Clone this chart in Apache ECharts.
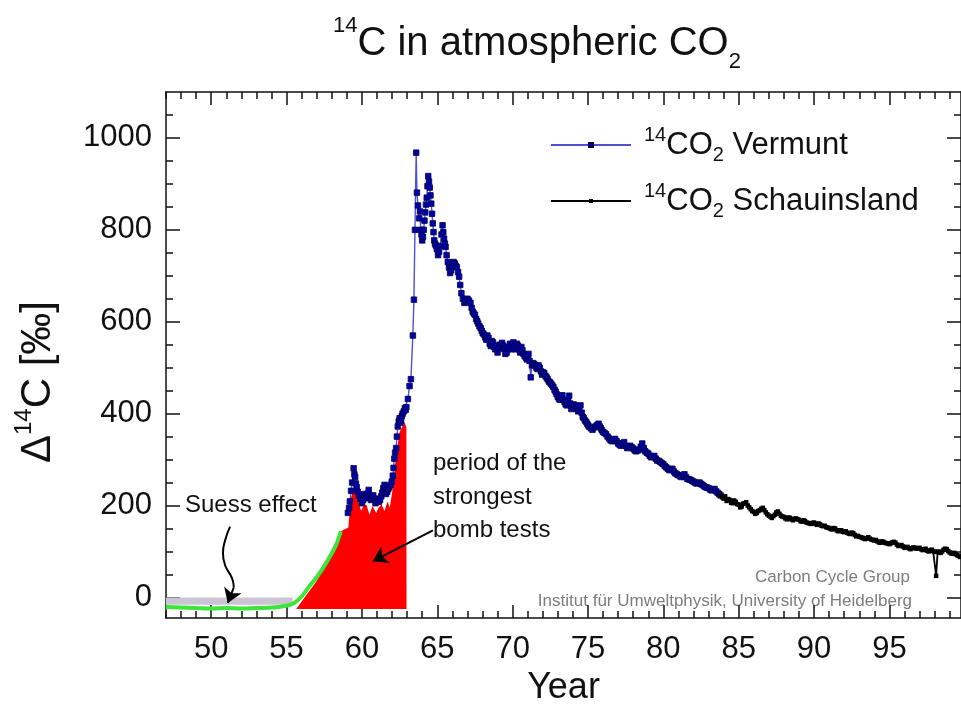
<!DOCTYPE html>
<html><head><meta charset="utf-8">
<script src="https://cdn.jsdelivr.net/npm/echarts@6/dist/echarts.min.js"></script>
<style>html,body{margin:0;padding:0;background:#fff}#c{width:961px;height:711px}</style>
</head><body><div id="c"></div>
<script>
// ---- tick labels ----
const xTickLabels = [50, 55, 60, 65, 70, 75, 80, 85, 90, 95];
const xMinorTicks = [47,48,49,50,51,52,53,54,55,56,57,58,59,60,61,62,63,64,65,66,67,68,69,70,71,72,73,74,75,76,77,78,79,80,81,82,83,84,85,86,87,88,89,90,91,92,93,94,95,96,97,98,99];
const yTickLabels = [0, 200, 400, 600, 800, 1000];
const yMinorTicks = [0,50,100,150,200,250,300,350,400,450,500,550,600,650,700,750,800,850,900,950,1000,1050];

// ---- Vermunt (year, Δ14C ‰) ----
const vermuntYears = [59.07,59.15,59.2,59.28,59.35,59.45,59.5,59.55,59.6,59.65,59.72,59.8,59.9,60.0,60.08,60.15,60.22,60.3,60.38,60.45,60.52,60.6,60.68,60.75,60.82,60.9,60.98,61.05,61.12,61.2,61.28,61.35,61.42,61.5,61.55,61.6,61.68,61.75,61.82,61.9,61.98,62.05,62.1,62.15,62.2,62.27,62.32,62.38,62.44,62.5,62.55,62.6,62.65,62.7,62.78,62.85,62.9,62.95,63.05,63.16,63.25,63.38,63.45,63.52,63.6,63.65,63.72,63.8,63.85,63.9,63.95,64.0,64.05,64.1,64.15,64.2,64.25,64.3,64.35,64.4,64.45,64.5,64.55,64.6,64.65,64.7,64.75,64.8,64.85,64.9,64.97,65.05,65.12,65.2,65.28,65.35,65.4,65.45,65.5,65.55,65.62,65.7,65.78,65.85,65.92,66.0,66.08,66.15,66.22,66.3,66.38,66.45,66.52,66.6,66.7,66.8,66.9,67.0,67.1,67.2,67.28,67.35,67.42,67.5,67.58,67.65,67.72,67.8,67.88,67.95,68.02,68.1,68.18,68.25,68.32,68.4,68.48,68.55,68.62,68.7,68.78,68.85,68.92,69.0,69.08,69.15,69.22,69.3,69.38,69.45,69.52,69.6,69.68,69.75,69.82,69.9,69.98,70.05,70.12,70.2,70.28,70.35,70.42,70.5,70.58,70.65,70.72,70.8,70.88,70.95,71.0,71.05,71.12,71.2,71.28,71.35,71.42,71.5,71.58,71.65,71.72,71.8,71.88,71.95,72.02,72.1,72.18,72.25,72.32,72.4,72.48,72.55,72.62,72.7,72.78,72.85,72.92,73.0,73.08,73.15,73.22,73.3,73.38,73.45,73.52,73.6,73.68,73.75,73.82,73.9,73.98,74.05,74.12,74.2,74.28,74.35,74.42,74.5,74.58,74.65,74.72,74.8,74.88,74.95,75.02,75.1,75.2,75.3,75.4,75.5,75.6,75.7,75.78,75.85,75.92,76.0,76.1,76.2,76.3,76.4,76.5,76.6,76.7,76.8,76.9,77.0,77.1,77.2,77.3,77.4,77.5,77.6,77.7,77.8,77.9,78.0,78.1,78.2,78.3,78.4,78.5,78.6,78.7,78.8,78.9,79.0,79.1,79.2,79.3,79.4,79.5,79.6,79.7,79.8,79.9,80.0,80.1,80.2,80.3,80.4,80.5,80.6,80.7,80.8,80.9,81.0,81.1,81.2,81.3,81.4,81.5,81.6,81.7,81.8,81.9,82.0,82.1,82.2,82.3,82.4,82.5,82.6,82.7,82.8,82.9,83.0,83.1,83.2,83.3,83.4,83.5,83.6,83.7,83.8];
const vermuntValues = [184,195,209,232,250,281,268,262,248,240,230,222,214,205,212,225,220,216,226,234,222,212,218,222,214,205,210,215,208,212,220,228,238,245,232,225,230,236,240,245,252,265,282,302,315,325,350,372,383,390,380,385,395,400,405,412,408,414,432,460,475,570,648,800,968,881,853,825,840,800,790,777,785,800,820,838,855,870,895,917,905,892,875,857,835,814,795,777,770,766,758,745,752,765,790,810,795,781,770,763,745,730,718,706,712,720,730,727,722,719,708,698,680,662,650,641,645,650,646,641,630,622,618,615,606,601,596,590,586,580,575,572,566,561,570,565,552,547,558,555,545,540,548,533,542,550,545,554,548,540,530,533,540,545,552,540,548,555,545,540,552,548,540,533,545,538,530,525,522,518,526,530,515,479,505,510,508,505,500,497,505,500,492,485,490,488,482,479,475,470,468,465,462,458,452,448,442,436,432,430,436,440,430,425,420,418,428,439,422,410,415,420,418,415,410,405,412,418,402,393,390,385,382,378,374,371,368,365,370,372,375,378,372,368,364,360,358,355,350,346,342,340,343,345,340,335,332,330,335,338,330,325,328,330,327,324,320,318,320,322,328,335,325,318,315,313,308,305,306,308,302,298,297,295,292,290,286,283,280,277,279,280,274,270,268,266,264,262,265,268,262,258,257,256,254,252,250,248,249,250,247,245,242,240,239,238,235,233,235,236,231,228,225,222];

// ---- Schauinsland ----
const schauYears = [83.8,83.9,84.0,84.1,84.2,84.3,84.4,84.5,84.6,84.7,84.8,84.9,85.0,85.1,85.2,85.3,85.4,85.5,85.6,85.7,85.8,85.9,86.0,86.1,86.2,86.3,86.4,86.5,86.6,86.7,86.8,86.9,87.0,87.1,87.2,87.3,87.4,87.5,87.6,87.7,87.8,87.9,88.0,88.1,88.2,88.3,88.4,88.5,88.6,88.7,88.8,88.9,89.0,89.1,89.2,89.3,89.4,89.5,89.6,89.7,89.8,89.9,90.0,90.1,90.2,90.3,90.4,90.5,90.6,90.7,90.8,90.9,91.0,91.1,91.2,91.3,91.4,91.5,91.6,91.7,91.8,91.9,92.0,92.1,92.2,92.3,92.4,92.5,92.6,92.7,92.8,92.9,93.0,93.1,93.2,93.3,93.4,93.5,93.6,93.7,93.8,93.9,94.0,94.1,94.2,94.3,94.4,94.5,94.6,94.7,94.8,94.9,95.0,95.1,95.2,95.3,95.4,95.5,95.6,95.7,95.8,95.9,96.0,96.1,96.2,96.3,96.4,96.5,96.6,96.7,96.8,96.9,97.0,97.1,97.2,97.3,97.4,97.5,97.6,97.7,97.8,97.9,98.0,98.1,98.2,98.3,98.4,98.5,98.6,98.7,98.8,98.9,99.0,99.1,99.2,99.3,99.4,99.5,99.6,99.7];
const schauValues = [222,218,215,220,210,214,212,206,205,211,208,203,202,196,198,204,205,207,200,196,192,188,186,182,184,188,190,193,195,190,185,181,178,176,173,177,180,185,187,182,178,176,175,172,170,174,173,170,168,171,172,170,169,166,165,168,166,163,162,161,160,162,163,160,158,161,159,156,155,156,153,152,151,149,148,151,150,146,144,146,146,143,142,144,141,139,138,141,140,136,133,134,132,131,130,128,127,129,131,128,126,125,124,125,122,120,119,122,121,119,118,117,116,118,120,121,119,115,112,113,114,111,108,109,110,107,105,107,109,108,106,107,108,105,103,104,106,102,100,102,104,101,99,47,100,98,97,100,104,106,105,101,98,96,95,97,94,92,90,88];

// ---- red area: period of the strongest bomb tests ----
const bombYears = [55.64,56.3,57.0,57.8,58.6,59.1,59.25,59.4,59.5,59.7,59.95,60.1,60.3,60.5,60.7,60.95,61.1,61.3,61.5,61.7,61.85,62.05,62.27,62.5,62.83,62.95,62.96];
const bombValues = [-25,5,36,90,144,152,215,230,238,216,188,200,202,180,199,184,195,202,188,209,195,238,310,360,382,370,-25];
const bombBase = -25;

// ---- green curve (Suess effect / pre-bomb) ----
const suessYears = [47,48,49,50,51,52,53,54,55,55.5,56,56.5,57,57.5,58,58.3,58.6];
const suessValues = [-21,-22,-23,-24,-23,-24,-23,-22,-18,-12,2,24,44,68,96,115,144];
const suessBand = [[47, 0], [55.4, -16]];

// ---- annotation arrows (data coordinates) ----
const suessArrowPath = [[51.25,154],[50.92,124],[50.78,96],[50.92,70],[51.38,42],[51.5,22]];
const suessArrowHead = [[51.5,22],[51.1,-12]];
const bombArrow = [[64.71,146],[60.73,79]];

const zip = (a, b) => a.map((v, i) => [v, b[i]]);
const FONT = 'Liberation Sans, Arial, Helvetica, sans-serif';
const AX = '#111';

function xAxisDef(pos, ticks, len, withLabels, withLine) {
  return {
    type: 'value', min: 47, max: 99.75, position: pos,
    axisLine: { show: withLine, onZero: false, lineStyle: { color: AX, width: 1.5 } },
    axisTick: { show: true, inside: true, length: len, customValues: ticks, lineStyle: { color: AX, width: 1.5 } },
    axisLabel: { show: withLabels, customValues: xTickLabels, margin: 16, fontSize: 31, color: AX, fontFamily: FONT, formatter: v => String(v) },
    splitLine: { show: false },
    name: withLabels ? 'Year' : '', nameLocation: 'middle', nameGap: 50,
    nameTextStyle: { fontSize: 36, color: AX, fontFamily: FONT }
  };
}
function yAxisDef(pos, ticks, len, withLabels, withLine) {
  return {
    type: 'value', min: -45, max: 1100, position: pos,
    axisLine: { show: withLine, onZero: false, lineStyle: { color: AX, width: 1.5 } },
    axisTick: { show: true, inside: true, length: len, customValues: ticks, lineStyle: { color: AX, width: 1.5 } },
    axisLabel: { show: withLabels, customValues: yTickLabels, margin: 14, fontSize: 31, color: AX, fontFamily: FONT, formatter: v => String(v) },
    splitLine: { show: false }
  };
}

const chart = echarts.init(document.getElementById('c'), null, { renderer: 'canvas' });
const legendText = {
  'Vermunt': '{s|14}{m|CO}{b|2}{m| Vermunt}',
  'Schauinsland': '{s|14}{m|CO}{b|2}{m| Schauinsland}'
};
chart.setOption({
  animation: false,
  backgroundColor: '#fff',
  title: {
    text: '{s|14}{m|C in atmospheric CO}{b|2}',
    left: 333, top: 15, padding: 0,
    textStyle: {
      fontWeight: 'normal',
      rich: {
        s: { fontSize: 22, fontFamily: FONT, fontWeight: 'normal', color: AX, lineHeight: 22, verticalAlign: 'top' },
        m: { fontSize: 40, fontFamily: FONT, fontWeight: 'normal', color: AX, lineHeight: 58 },
        b: { fontSize: 22, fontFamily: FONT, fontWeight: 'normal', color: AX, lineHeight: 36, verticalAlign: 'bottom' }
      }
    }
  },
  legend: {
    orient: 'vertical', left: 550, top: 125, padding: 0,
    itemWidth: 80, itemHeight: 5, itemGap: 16,
    data: ['Vermunt', 'Schauinsland'],
    formatter: n => legendText[n],
    textStyle: {
      padding: [0, 0, 0, 8],
      rich: {
        s: { fontSize: 20, fontFamily: FONT, color: AX, lineHeight: 20, verticalAlign: 'top' },
        m: { fontSize: 31, fontFamily: FONT, color: AX, lineHeight: 40 },
        b: { fontSize: 20, fontFamily: FONT, color: AX, lineHeight: 12, verticalAlign: 'bottom' }
      }
    }
  },
  grid: { left: 166, right: 0, top: 92, bottom: 91, containLabel: false },
  xAxis: [
    xAxisDef('bottom', xTickLabels, 13, true, true),
    xAxisDef('bottom', xMinorTicks, 7, false, false),
    xAxisDef('top', xTickLabels, 13, false, true),
    xAxisDef('top', xMinorTicks, 7, false, false)
  ],
  yAxis: [
    yAxisDef('left', yTickLabels, 14, true, true),
    yAxisDef('left', yMinorTicks, 7, false, false),
    yAxisDef('right', yTickLabels, 14, false, true),
    yAxisDef('right', yMinorTicks, 7, false, false)
  ],
  series: [
    {
      type: 'line', name: 'band', data: suessBand.map(p => p), symbol: 'none',
      lineStyle: { width: 0, opacity: 0 }, silent: true,
      markArea: { silent: true, itemStyle: { color: '#cbc4d2' },
        data: [[{ coord: suessBand[0] }, { coord: suessBand[1] }]] }
    },
    {
      type: 'line', name: 'bomb', data: zip(bombYears, bombValues), symbol: 'none',
      lineStyle: { width: 0 }, areaStyle: { color: '#ff0000', opacity: 1, origin: bombBase }, silent: true
    },
    {
      type: 'line', name: 'suess', data: zip(suessYears, suessValues), symbol: 'none', smooth: 0.3,
      lineStyle: { color: '#3ae63a', width: 4 }, silent: true
    },
    {
      type: 'line', name: 'Vermunt', data: zip(vermuntYears, vermuntValues),
      symbol: 'rect', symbolSize: 5.5, showAllSymbol: true,
      itemStyle: { color: '#0000a8', borderColor: '#000050', borderWidth: 0.8 },
      lineStyle: { color: '#4f4fd8', width: 1.4 }
    },
    {
      type: 'line', name: 'Schauinsland', data: zip(schauYears, schauValues),
      symbol: 'rect', symbolSize: 4.5, showAllSymbol: true,
      itemStyle: { color: '#000' }, lineStyle: { color: '#000', width: 1.8 }
    },
    {
      type: 'line', name: 'suessArrow', data: suessArrowPath, symbol: 'none', smooth: 0.5,
      lineStyle: { color: '#000', width: 2 }, silent: true, z: 10
    },
    {
      type: 'lines', coordinateSystem: 'cartesian2d', silent: true, z: 10,
      symbol: ['none', 'arrow'], symbolSize: 14,
      lineStyle: { color: '#000', width: 2, opacity: 1 },
      data: [{ coords: suessArrowHead }, { coords: bombArrow }]
    }
  ],
  graphic: [
    {
      type: 'text', x: 38, y: 382, rotation: Math.PI / 2,
      style: {
        text: '{d|Δ}{s|14}{m|C [‰]}', align: 'center', verticalAlign: 'middle',
        rich: {
          d: { fontSize: 42, fontFamily: FONT, fill: AX, lineHeight: 52 },
          s: { fontSize: 24, fontFamily: FONT, fill: AX, lineHeight: 24, verticalAlign: 'top' },
          m: { fontSize: 42, fontFamily: FONT, fill: AX, lineHeight: 52 }
        }
      }
    },
    { type: 'text', x: 185, y: 505, style: { text: 'Suess effect', font: '24px ' + FONT, fill: AX, verticalAlign: 'middle' } },
    { type: 'text', x: 433, y: 447, style: { text: 'period of the\nstrongest\nbomb tests', font: '24px ' + FONT, fill: AX, lineHeight: 33.5, verticalAlign: 'top' } },
    { type: 'text', x: 910, y: 577, style: { text: 'Carbon Cycle Group', font: '17px ' + FONT, fill: '#7d7d7d', align: 'right', verticalAlign: 'middle' } },
    { type: 'text', x: 912, y: 601, style: { text: 'Institut für Umweltphysik, University of Heidelberg', font: '17px ' + FONT, fill: '#7d7d7d', align: 'right', verticalAlign: 'middle' } }
  ]
});
</script>
</body></html>
